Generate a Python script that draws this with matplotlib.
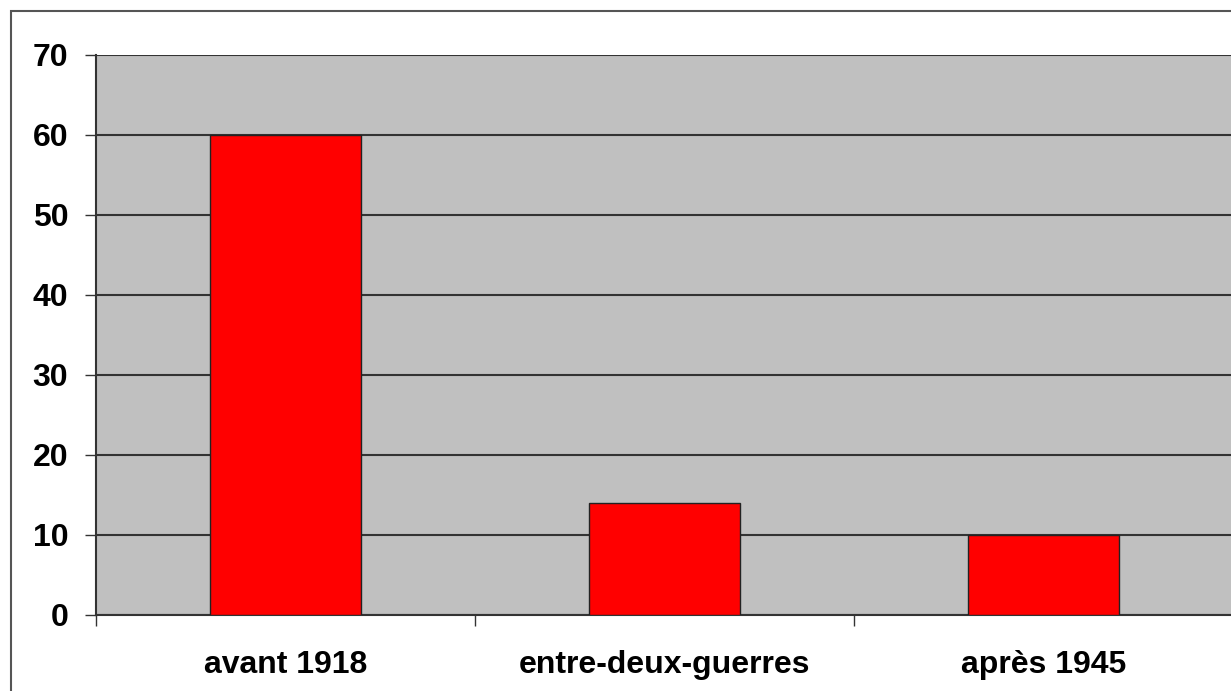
import matplotlib
matplotlib.use('Agg')
import matplotlib.pyplot as plt
from matplotlib.patches import Rectangle

# Data
categories = ['avant 1918', 'entre-deux-guerres', 'après 1945']
values = [60, 14, 10]
yticks = [0, 10, 20, 30, 40, 50, 60, 70]

plt.rcParams['font.family'] = ['Liberation Sans', 'DejaVu Sans']

fig = plt.figure(figsize=(12.31, 6.91), dpi=100)
fig.patch.set_facecolor('white')

# outer chart frame (cropped on right and bottom)
fig.patches.append(Rectangle((11 / 1231, -0.05), 1.2, 1 - 11 / 691 + 0.05,
                             transform=fig.transFigure, fill=False,
                             edgecolor='#555555', linewidth=1.5))

ax = fig.add_axes([96 / 1231, 1 - 615 / 691, 1137 / 1231, 560 / 691])
ax.set_facecolor('#C0C0C0')

x = list(range(len(categories)))
ax.bar(x, values, width=0.4, color='#FF0000', edgecolor='#222222',
       linewidth=1.0, zorder=3)

ax.set_xlim(-0.5, len(categories) - 0.5)
ax.set_ylim(0, 70)
ax.set_yticks(yticks)
ax.set_yticklabels([str(v) for v in yticks], fontsize=23, fontweight='bold')
ax.yaxis.grid(True, color='#333333', linewidth=1.5, zorder=1)
ax.set_axisbelow(True)

# category labels centered, tick marks at boundaries
ax.set_xticks([i + 0.5 for i in x[:-1]] + [-0.5, len(categories) - 0.5])
ax.set_xticklabels([])
ax.tick_params(axis='x', length=8, width=1, color='#333333', direction='out')
ax.tick_params(axis='y', length=8, width=1, color='#333333', direction='out',
               pad=12)
for i, c in enumerate(categories):
    ax.text(i, -6.3, c, ha='center', va='center', fontsize=23,
            fontweight='bold', transform=ax.transData)

for side in ['top', 'right']:
    ax.spines[side].set_visible(False)
ax.spines['left'].set_color('#333333')
ax.spines['left'].set_linewidth(1.5)
ax.spines['bottom'].set_color('#333333')
ax.spines['bottom'].set_linewidth(1.5)

fig.savefig('out.png', dpi=100, facecolor='white')
